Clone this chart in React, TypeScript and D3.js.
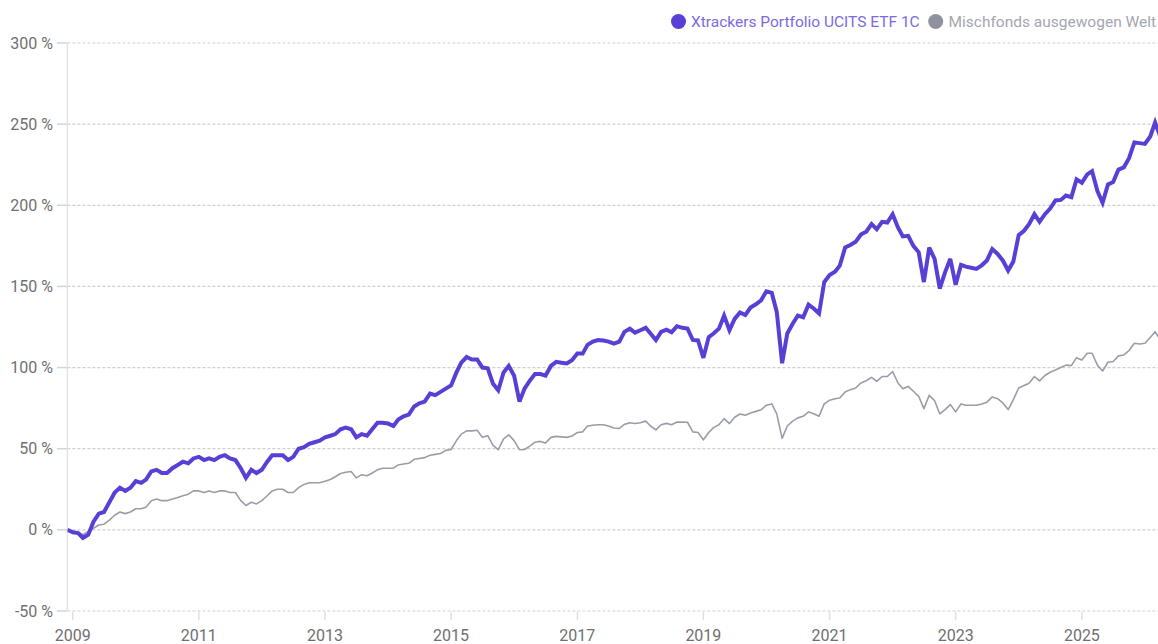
import React from 'react';
import * as d3 from 'd3';

// Monthly performance (%), first point = Dec 2008
const startDate = new Date(2008, 11, 1);
const endDate = new Date(2026, 2, 1);

const etfValues: number[] = [
  0, -1.5, -2, -5, -3, 5, 10, 11, 17, 23, 26, 24, 26, 30, 29, 31, 36, 37, 35, 35,
  38, 40, 42, 41, 44, 45, 43, 44, 43, 45, 46, 44, 43, 38, 32, 37, 35, 37, 42, 46,
  46, 46, 43, 45, 50, 51, 53, 54, 55, 57, 58, 59, 62, 63, 62, 57, 59, 58, 62, 66,
  66, 65.5, 64, 68, 70, 71, 76, 78, 79, 84, 83, 85, 87, 89, 97, 103, 106.5, 105, 105, 100,
  99.5, 90, 86, 97, 101, 95, 79, 87, 92, 96, 96, 95, 101, 103.5, 103, 102.5, 104.5, 108.6, 108.6, 114,
  116, 117, 116.7, 116, 114.7, 116, 122, 124, 121.5, 123, 124.5, 121, 117, 122, 123.4, 121.8, 125.5, 124.5, 124, 117,
  116.7, 106, 118.8, 121, 124, 132, 123, 130, 134, 132.4, 137, 139, 141.4, 147, 146, 134.3, 102.7, 121, 127, 132,
  131, 138.8, 136.4, 133.3, 152.7, 157, 159, 162.8, 174, 175.5, 177.5, 182, 183.7, 188.4, 185.3, 189.8, 189.4, 194.5, 186.3, 180.8,
  181.2, 175, 171, 152.7, 174, 167, 148.6, 158.8, 167, 151, 163.3, 162.2, 161.5, 160.8, 163, 166, 173, 170, 166, 159.8,
  165.3, 181.6, 184.3, 188.4, 194.5, 189.8, 194.5, 198, 203, 203.3, 206, 205, 216, 213.9, 219, 221, 208.8, 201.6, 212.9, 214.3,
  222, 223.4, 229, 238.7, 238.3, 237.8, 242.4, 251, 242,
];

const fundValues: number[] = [
  0, -1, -1.5, -3, -1, 1, 3, 3.5, 6, 9, 11, 10, 11, 13, 13, 14, 18, 19, 18, 18,
  19, 20, 21, 22, 24, 24, 23, 24, 23, 24, 24, 23, 23, 18, 15, 17, 16, 18, 21, 24,
  25, 25, 23, 23, 26, 28, 29, 29, 29, 30, 31, 32.7, 34.7, 35.5, 36, 32, 34, 33.3, 35, 37,
  38, 38, 38, 40, 40.6, 41, 43.5, 44, 44.5, 46, 46.5, 47, 49, 49.5, 55, 59, 61, 61, 61.4, 57,
  58, 52, 49.4, 56, 58.5, 55, 49.4, 49.5, 51.6, 54, 54.5, 53.5, 57, 57.6, 57.3, 57, 57.8, 60, 60.4, 64,
  64.5, 64.8, 64.8, 64, 62.8, 62.5, 65, 66, 65.5, 66, 67, 64, 61.6, 64.8, 65.6, 64.8, 66.5, 66.4, 66.3, 60.4,
  60, 55.5, 60, 63, 64.8, 68.5, 65.5, 69.4, 71.4, 70.6, 72, 73, 74, 76.8, 77.6, 71.5, 56.4, 64, 67, 69,
  70, 72.7, 71.5, 70, 77.6, 79.9, 80.8, 81.3, 85, 86.4, 87.4, 90.5, 91.9, 94, 91.5, 94.5, 94.5, 97.6, 90.5, 87,
  88.4, 85.4, 82.3, 74.7, 82.9, 79.6, 71.5, 74.1, 77.2, 72.7, 77.6, 76.8, 76.8, 76.8, 77.5, 78.7, 81.9, 80.8, 78.2, 74.1,
  80.2, 87.4, 89, 90.4, 94.5, 91.8, 95.1, 97.1, 98.5, 100, 101.5, 101.2, 106.1, 104.7, 108.8, 108.8, 101.5, 97.9, 103.3, 103.7,
  107.2, 107.8, 110.5, 115, 114.5, 115, 118.5, 122.1, 117,
];

const yTicks: number[] = [-50, 0, 50, 100, 150, 200, 250, 300];
const xTickYears: number[] = [2009, 2011, 2013, 2015, 2017, 2019, 2021, 2023, 2025];
const seriesNames: string[] = ['Xtrackers Portfolio UCITS ETF 1C', 'Mischfonds ausgewogen Welt'];

const W = 1158;
const H = 644;
const FONT = 'Roboto, "Noto Sans", sans-serif';
const PURPLE = '#5a3fd6';
const PURPLE_TEXT = '#7b6ae4';
const GRAY_LINE = '#9a9da9';
const GRAY_DOT = '#8f929e';
const GRAY_TEXT = '#a4a6b1';

export default function App() {
  const x = d3.scaleTime().domain([startDate, endDate]).range([67.4, 1155.1]);
  const y = d3.scaleLinear().domain([-50, 300]).range([611, 43]);
  const dates = etfValues.map((_, i) => d3.timeMonth.offset(startDate, i));

  const line = d3
    .line<number>()
    .x((_, i) => x(dates[i]))
    .y((d) => y(d))
    .curve(d3.curveLinear);

  const axisX = x(startDate);

  return (
    <div style={{ position: 'fixed', left: 0, top: 0, width: W, height: H, background: '#fff' }}>
      <svg width={W} height={H} style={{ display: 'block', fontFamily: FONT }}>
        <defs>
          <clipPath id="plot-clip">
            <rect x={axisX} y={0} width={W - axisX} height={H} />
          </clipPath>
        </defs>

        {/* gridlines + y labels */}
        {yTicks.map((t) => (
          <g key={t}>
            <line x1={57} x2={axisX} y1={y(t)} y2={y(t)} stroke="#d4d4d4" strokeWidth={1.5} />
            <line
              x1={axisX}
              x2={W}
              y1={y(t)}
              y2={y(t)}
              stroke="#cfcfcf"
              strokeWidth={1.2}
              strokeDasharray="3,2"
            />
            <text x={53} y={y(t)} dy="0.35em" textAnchor="end" fontSize={16} fill="#6f6f6f">
              {`${t} %`}
            </text>
          </g>
        ))}

        {/* y axis line */}
        <line x1={axisX} x2={axisX} y1={y(300)} y2={y(-50)} stroke="#e3e3e3" strokeWidth={1.5} />

        {/* x ticks + labels */}
        {xTickYears.map((yr) => {
          const px = x(new Date(yr, 0, 1));
          return (
            <g key={yr}>
              <line x1={px} x2={px} y1={612} y2={620} stroke="#e0e0e0" strokeWidth={1.5} />
              <text x={px} y={641} textAnchor="middle" fontSize={16} fill="#6f6f6f">
                {yr}
              </text>
            </g>
          );
        })}

        <g clipPath="url(#plot-clip)">
          <path d={line(fundValues) || ''} fill="none" stroke={GRAY_LINE} strokeWidth={1.6} strokeLinejoin="round" />
          <path d={line(etfValues) || ''} fill="none" stroke={PURPLE} strokeWidth={4} strokeLinejoin="miter" strokeMiterlimit={3} />
        </g>

        {/* legend */}
        <g>
          <circle cx={678.5} cy={21.5} r={7.5} fill={PURPLE} />
          <text x={691} y={21.5} dy="0.35em" fontSize={15.5} fill={PURPLE_TEXT}>
            {seriesNames[0]}
          </text>
          <circle cx={935.7} cy={21.5} r={7.5} fill={GRAY_DOT} />
          <text x={948.5} y={21.5} dy="0.35em" fontSize={15.5} fill={GRAY_TEXT}>
            {seriesNames[1]}
          </text>
        </g>
      </svg>
    </div>
  );
}
